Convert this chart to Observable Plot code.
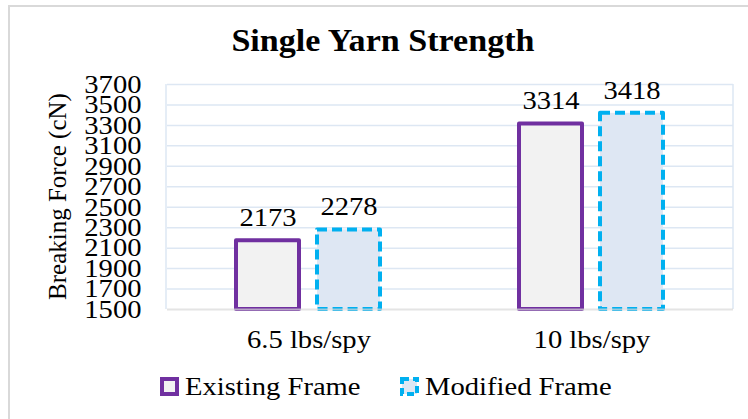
<!DOCTYPE html>
<html>
<head>
<meta charset="utf-8">
<script src="https://cdn.jsdelivr.net/npm/d3@7"></script>
<script src="https://cdn.jsdelivr.net/npm/@observablehq/plot@0.6"></script>
<style>
  html, body { margin: 0; padding: 0; background: #fff; overflow: hidden; font-family: 'Liberation Serif', 'Times New Roman', serif; }
  #wrap { position: relative; width: 748px; height: 419px; overflow: hidden; color: #000; }
  #border { position: absolute; left: 8px; top: 5px; width: 800px; height: 500px; border: 2px solid #d9d9d9; box-sizing: border-box; }
  #title { position: absolute; left: 0; top: 25px; width: 766px; text-align: center; font-size: 31px; font-weight: bold; line-height: 1; transform: scaleX(1.1); transform-origin: 383px 50%; }
  #chart { position: absolute; left: 0; top: 60px; }
  .leg { position: absolute; top: 374px; font-size: 26px; line-height: 1; display: flex; align-items: center; white-space: nowrap; }
  .leg svg { margin-right: 5px; }
  .leg span { display: inline-block; transform: scaleX(1.1); transform-origin: 0 50%; }
</style>
</head>
<body>
<div id="wrap">
  <div id="border"></div>
  <div id="title">Single Yarn Strength</div>
  <div id="chart"></div>
  <div id="legend"></div>
</div>
<script>
const categories = ["6.5 lbs/spy", "10 lbs/spy"];
const series = ["Existing Frame", "Modified Frame"];
const existing = [2173, 3314];
const modified = [2278, 3418];
const yTicks = [1500, 1700, 1900, 2100, 2300, 2500, 2700, 2900, 3100, 3300, 3500, 3700];
const yLabel = "Breaking Force (cN)";

const seriesStyle = {
  "Existing Frame": {fill: "#f2f2f2", stroke: "#7030a0", dash: null},
  "Modified Frame": {fill: "#dee7f3", stroke: "#00b0f0", dash: "10,5"}
};

const data = categories.flatMap((c, i) => [
  {cat: c, series: series[0], value: existing[i]},
  {cat: c, series: series[1], value: modified[i]}
]);

const font = "'Liberation Serif', 'Times New Roman', serif";

const barsFor = s => Plot.barY(data.filter(d => d.series === s), {
  fx: "cat", x: "series", y1: yTicks[0], y2: "value",
  fill: seriesStyle[s].fill, stroke: seriesStyle[s].stroke, strokeWidth: 4,
  strokeLinejoin: "round",
  ...(seriesStyle[s].dash ? {strokeDasharray: seriesStyle[s].dash} : {})
});

const plot = Plot.plot({
  width: 748, height: 300,
  marginTop: 24, marginBottom: 51, marginLeft: 166, marginRight: 15,
  style: {fontFamily: font, fontSize: "26px", color: "#000", background: "transparent", overflow: "visible"},
  fx: {domain: categories, padding: 0, label: null, axis: "bottom", tickSize: 0, tickPadding: 20},
  x: {domain: series, paddingInner: 0.22, paddingOuter: 0.838, axis: null},
  y: {domain: [yTicks[0], yTicks[yTicks.length - 1]], ticks: yTicks, tickSize: 0, tickPadding: 26, label: null, tickFormat: d => String(d)},
  marks: [
    Plot.ruleY(yTicks.slice(1), {stroke: "#dde7f3", strokeWidth: 1.5}),
    barsFor(series[0]),
    barsFor(series[1]),
    Plot.ruleY([yTicks[0]], {stroke: "#d9d9d9", strokeWidth: 2, strokeOpacity: 0.7}),
    Plot.text(data, {fx: "cat", x: "series", y: "value", text: d => String(d.value), dy: -23, fontSize: 26, fill: "#000"})
  ]
});
document.getElementById("chart").appendChild(plot);

const svg = d3.select(plot);
// slight horizontal stretch of the glyphs, as in the reference, around each text's anchor
svg.selectAll("text").each(function() {
  const t = d3.select(this);
  const x = +t.attr("x") || 0, y = +t.attr("y") || 0;
  const tr = t.attr("transform") || "";
  t.attr("transform", `${tr} translate(${x},${y}) scale(1.1,1) translate(${-x},${-y})`);
});

// plot-area frame (left/right edges) and y-axis title, using the plot's scales
const fxS = plot.scale("fx"), yS = plot.scale("y");
const xl = Math.min(...fxS.range), xr = Math.max(...fxS.range);
const yt = Math.min(...yS.range), yb = Math.max(...yS.range);
svg.insert("g", ":first-child").attr("stroke", "#dde7f3").attr("stroke-width", 1.5)
  .selectAll("line").data([xl, xr]).join("line")
  .attr("x1", d => d).attr("x2", d => d).attr("y1", yt).attr("y2", yb);
svg.append("text")
  .attr("transform", `translate(58,${(yt + yb) / 2}) rotate(-90)`)
  .attr("text-anchor", "middle").attr("dy", "0.32em")
  .attr("font-family", font).attr("font-size", 25).attr("fill", "#000")
  .text(yLabel);

// legend
const legend = document.getElementById("legend");
const legLeft = [160, 400];
series.forEach((s, i) => {
  const st = seriesStyle[s];
  const item = document.createElement("div");
  item.className = "leg";
  item.style.left = legLeft[i] + "px";
  item.innerHTML = `<svg width="20" height="20"><rect x="2" y="2" width="15" height="15" fill="${st.fill}" stroke="${st.stroke}" stroke-width="4" ${st.dash ? 'stroke-dasharray="7,4"' : ''}/></svg><span>${s}</span>`;
  legend.appendChild(item);
});
</script>
</body>
</html>
